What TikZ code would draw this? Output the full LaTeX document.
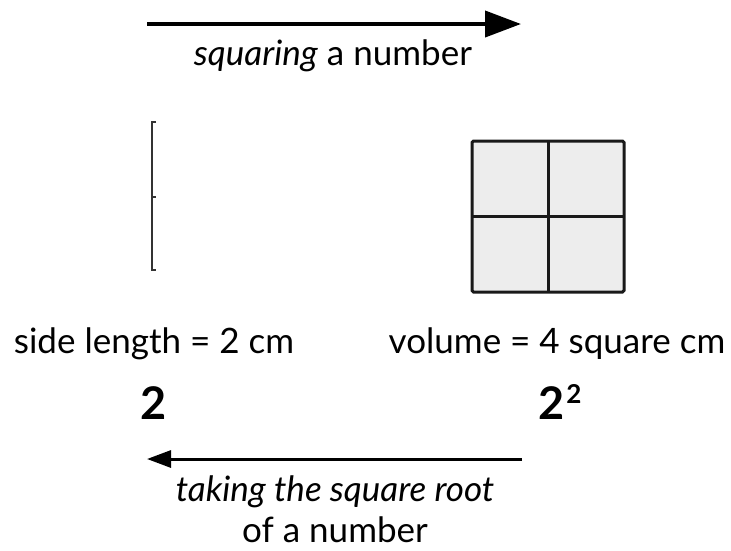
\documentclass[tikz,border=0pt]{standalone}
\usepackage{fontspec}
\setmainfont{Lato}
\usetikzlibrary{arrows.meta}
\begin{document}
\begin{tikzpicture}[x=1pt,y=-1pt,
  lbl/.style={inner sep=0pt,font=\fontsize{35}{40}\selectfont,anchor=base},
  big/.style={inner sep=0pt,font=\fontsize{45}{48}\selectfont\bfseries,anchor=base},
  cell/.style={draw=black!90,line width=3pt,fill=black!7}]
\useasboundingbox (0,0) rectangle (731,550);
% top arrow
\coordinate (ta) at (147,24);
\coordinate (tb) at (521,24);
\draw[line width=4pt,-{Triangle[length=36pt,width=26pt]}] (ta) -- (tb);
\node[lbl] (sq) at (333,65) {\textit{squaring} a number};
% bracket
\coordinate (b1) at (152,122);
\coordinate (b2) at (152,197);
\coordinate (b3) at (152,270);
\draw[line width=1.8pt,black!80] ([xshift=4]b1) -- (b1) -- (b3) -- ([xshift=4]b3);
\draw[line width=1.8pt,black!80] (b2) -- ([xshift=4]b2);
% square
\draw[cell,rounded corners=1.5pt] (472,141) rectangle (624,292);
\draw[cell,fill=none] (548,141) -- (548,292) (472,216) -- (624,216);
% labels
\node[lbl] (sl) at (154,353) {side length = 2 cm};
\node[lbl] (vol) at (557,353) {volume = 4 square cm};
\node[big] (two) at (154,419) {2};
\node[big] (sq2) at (560,419) {2\hspace{1.5pt}\raisebox{16pt}{\fontsize{26}{28}\selectfont\bfseries 2}};
% bottom arrow
\coordinate (ba) at (522,459);
\coordinate (bb) at (147,459);
\draw[line width=3pt,-{Triangle[length=24pt,width=17pt]}] (ba) -- (bb);
\node[lbl] (t1) at (335,501) {\textit{taking the square root}};
\node[lbl] (t2) at (335,542) {of a number};
\end{tikzpicture}
\end{document}
